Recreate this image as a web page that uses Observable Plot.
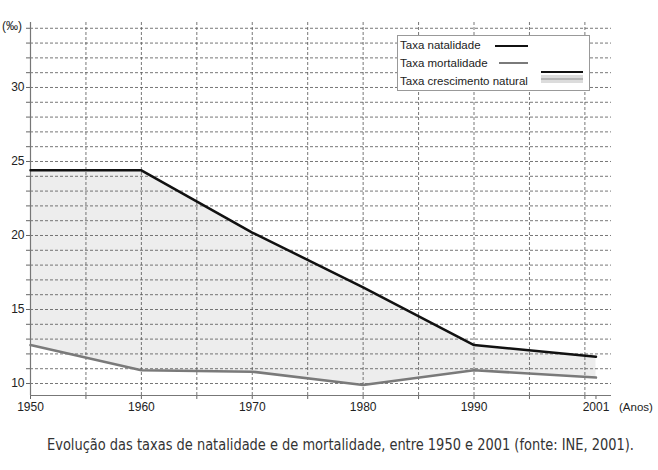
<!DOCTYPE html>
<html>
<head>
<meta charset="utf-8">
<script src="https://cdn.jsdelivr.net/npm/d3@7"></script>
<script src="https://cdn.jsdelivr.net/npm/@observablehq/plot@0.6"></script>
<style>
  html, body { margin: 0; padding: 0; background: #fff; }
  #wrap { position: relative; width: 658px; height: 470px; font-family: "Liberation Sans", Arial, sans-serif; }
  .ov { position: absolute; font-size: 11.5px; color: #222; white-space: nowrap; }
  #cap { position: absolute; left: 47px; top: 436px; white-space: nowrap; color: #333; transform-origin: 0 0;
         font-family: "Liberation Sans Narrow", "DejaVu Sans Condensed", "Liberation Sans", sans-serif; font-size: 16px; line-height: 18px; }
</style>
</head>
<body>
<div id="wrap"></div>
<script>
// ---- data ----
const years       = [1950, 1960, 1970, 1980, 1990, 2001];
const natalidade  = [24.4, 24.4, 20.2, 16.5, 12.6, 11.8];
const mortalidade = [12.6, 10.9, 10.8, 9.9, 10.9, 10.4];
const xTickLabels = [1950, 1960, 1970, 1980, 1990, 2001];
const yTickLabels = [10, 15, 20, 25, 30];
const legendLabels = ["Taxa natalidade", "Taxa mortalidade", "Taxa crescimento natural"];
const yUnit = "(‰)";
const xUnit = "(Anos)";
const caption = "Evolução das taxas de natalidade e de mortalidade, entre 1950 e 2001 (fonte: INE, 2001).";

const data = years.map((y, i) => ({year: y, nat: natalidade[i], mort: mortalidade[i]}));
const xDomain = [1950, 2002.4];
const yDomain = [9.19, 34.39];
const xTicks = [...d3.range(1950, 2001, 5), 2001];
const yTicks = d3.range(10, 35);

const chart = Plot.plot({
  width: 658,
  height: 420,
  marginLeft: 30,
  marginRight: 47,
  marginTop: 22,
  marginBottom: 25,
  style: {fontFamily: '"Liberation Sans", Arial, sans-serif', fontSize: "12px", color: "#222", background: "white"},
  x: {domain: xDomain},
  y: {domain: yDomain},
  marks: [
    Plot.areaY(data, {x: "year", y1: "mort", y2: "nat", fill: "#ededed"}),
    Plot.gridY(yTicks, {stroke: "#555", strokeOpacity: 0.8, strokeDasharray: "3,2"}),
    Plot.gridX(d3.range(1955, 2001, 5), {stroke: "#555", strokeOpacity: 0.8, strokeDasharray: "3,2"}),
    Plot.axisY({ticks: yTicks, tickFormat: d => yTickLabels.includes(d) ? String(d) : "", tickSize: 4, tickPadding: 2, label: null, stroke: "#666"}),
    Plot.axisX({ticks: xTicks, tickFormat: d => xTickLabels.includes(d) ? String(d) : "", tickSize: 4, tickPadding: 3, label: null, stroke: "#666"}),
    Plot.ruleX([xDomain[0]], {stroke: "#777", strokeWidth: 1.2}),
    Plot.ruleY([yDomain[0]], {stroke: "#777", strokeWidth: 1.2}),
    Plot.line(data, {x: "year", y: "mort", stroke: "#7a7a7a", strokeWidth: 2.5}),
    Plot.line(data, {x: "year", y: "nat", stroke: "#111", strokeWidth: 2.5})
  ]
});

const wrap = document.getElementById("wrap");
wrap.appendChild(chart);

// unit labels
const yu = document.createElement("div");
yu.className = "ov"; yu.textContent = yUnit; yu.style.fontSize = "12px";
yu.style.left = "2px"; yu.style.top = "19px";
wrap.appendChild(yu);
const xu = document.createElement("div");
xu.className = "ov"; xu.textContent = xUnit;
xu.style.left = "619px"; xu.style.top = "401px";
wrap.appendChild(xu);

// legend
const ns = "http://www.w3.org/2000/svg";
const leg = document.createElementNS(ns, "svg");
leg.setAttribute("width", 194); leg.setAttribute("height", 57);
leg.style.position = "absolute"; leg.style.left = "397px"; leg.style.top = "35px";
leg.style.fontFamily = '"Liberation Sans", Arial, sans-serif';
leg.innerHTML = `
  <rect x="0.5" y="0.5" width="192" height="55" fill="white" stroke="#999"/>
  <text x="3" y="14" font-size="11.5" fill="#222">${legendLabels[0]}</text>
  <line x1="98" x2="131" y1="11" y2="11" stroke="#111" stroke-width="2"/>
  <text x="3" y="32" font-size="11.5" fill="#222">${legendLabels[1]}</text>
  <line x1="102" x2="131" y1="28" y2="28" stroke="#7a7a7a" stroke-width="2"/>
  <text x="3" y="50" font-size="11.5" fill="#222">${legendLabels[2]}</text>
  <rect x="144" y="40" width="42" height="8" fill="#dcdcdc"/>
  <line x1="144" x2="186" y1="37" y2="37" stroke="#111" stroke-width="2"/>
  <line x1="144" x2="186" y1="44" y2="44" stroke="#aaa" stroke-width="1.5"/>
`;
wrap.appendChild(leg);

// caption (horizontally fitted to the reference width)
const cap = document.createElement("div");
cap.id = "cap"; cap.textContent = caption;
wrap.appendChild(cap);
const w = cap.getBoundingClientRect().width;
if (w > 0) {
  const s = Math.max(0.6, Math.min(1.3, 587 / w));
  cap.style.transform = `scaleX(${s})`;
}
</script>
</body>
</html>
